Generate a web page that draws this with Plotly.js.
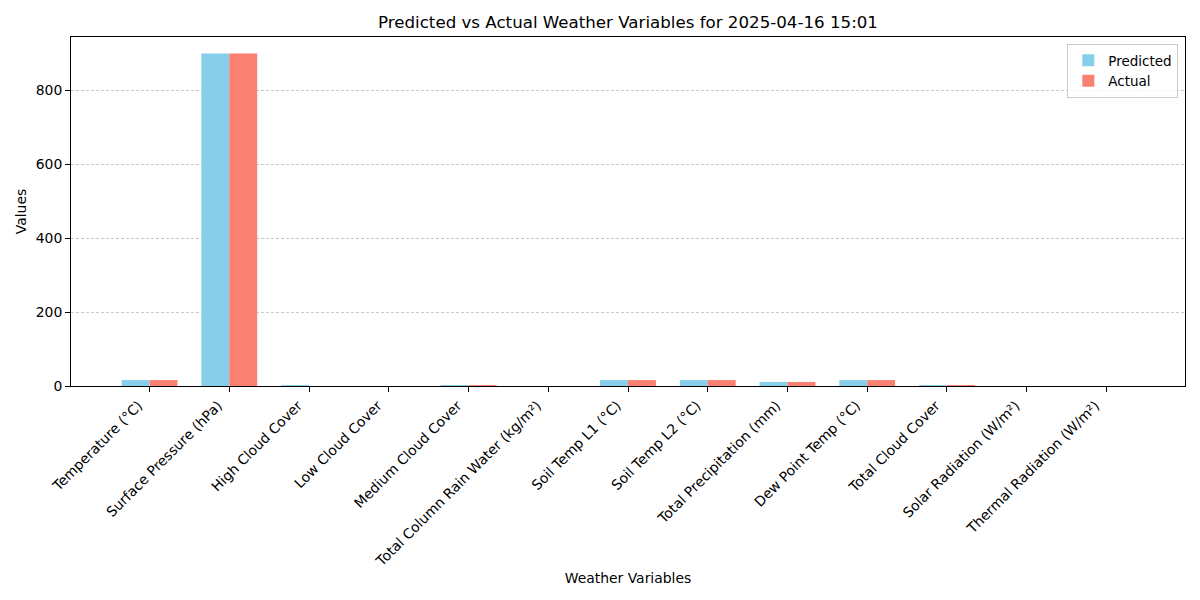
<!DOCTYPE html>
<html><head><meta charset="utf-8">
<script src="https://cdn.plot.ly/plotly-3.0.1.min.js"></script>
<style>body{margin:0;background:#fff}#c{width:1200px;height:600px}</style>
</head><body><div id="c"></div>
<script>
const categories = ["Temperature (°C)","Surface Pressure (hPa)","High Cloud Cover","Low Cloud Cover","Medium Cloud Cover","Total Column Rain Water (kg/m²)","Soil Temp L1 (°C)","Soil Temp L2 (°C)","Total Precipitation (mm)","Dew Point Temp (°C)","Total Cloud Cover","Solar Radiation (W/m²)","Thermal Radiation (W/m²)"];
const predicted = [16, 900, 1, 0, 1, 0, 16, 16, 11, 16, 1, 0, 0];
const actual = [16, 900, 0, 0, 1, 0, 16, 16, 11, 16, 1, 0, 0];
const font = {family:"DejaVu Sans", size:13.9, color:"#000"};
const data = [
 {type:"bar", name:"Predicted", x:categories, y:predicted, marker:{color:"#87CEEB"}},
 {type:"bar", name:"Actual", x:categories, y:actual, marker:{color:"#FA8072"}}
];
const layout = {
 width:1200, height:600, font:font,
 paper_bgcolor:"#fff", plot_bgcolor:"#fff",
 margin:{l:71, r:15, t:37, b:214},
 barmode:"group", bargap:0.3, bargroupgap:0,
 title:{text:"Predicted vs Actual Weather Variables for 2025-04-16 15:01", font:{family:"DejaVu Sans", size:16.67, color:"#000"}, xref:"paper", x:0.5, xanchor:"center", y:0.963, yanchor:"middle"},
 xaxis:{type:"category", range:[-0.985, 12.985], tickangle:-45, ticks:"outside", ticklen:5, tickcolor:"#000",
   ticklabelshift:-11,
   showline:true, linecolor:"#000", mirror:true, showgrid:false, zeroline:false,
   title:{text:"Weather Variables", font:font, standoff:4}, tickfont:font},
 yaxis:{range:[0, 945], tickvals:[0,200,400,600,800], ticks:"outside", ticklen:5, tickcolor:"#000",
   showline:true, linecolor:"#000", mirror:true, showgrid:true, gridcolor:"rgba(176,176,176,0.7)", griddash:"3px,2px", zeroline:false,
   title:{text:"Values", font:font, standoff:5}, tickfont:font},
 legend:{x:0.994, y:0.98, xanchor:"right", yanchor:"top", bgcolor:"rgba(255,255,255,0.8)", bordercolor:"#ccc", borderwidth:1, font:{family:"DejaVu Sans", size:13.5, color:"#000"}, tracegroupgap:0},
 showlegend:true
};
Plotly.newPlot("c", data, layout, {displayModeBar:false});
</script></body></html>
